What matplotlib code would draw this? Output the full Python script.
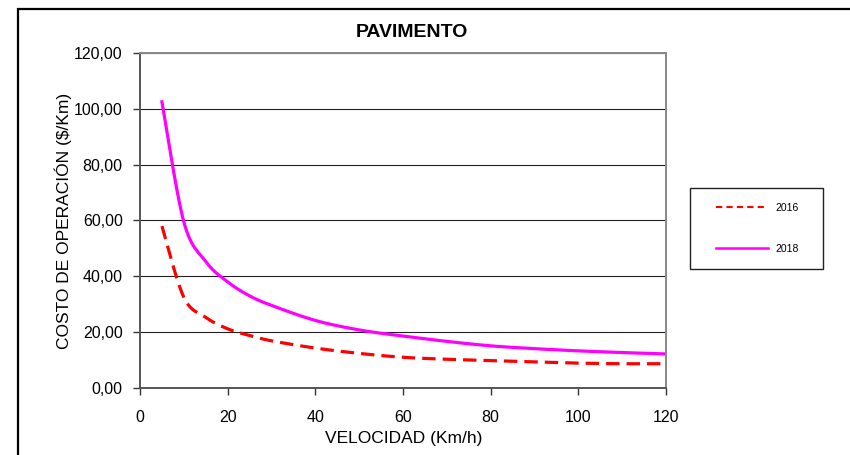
import matplotlib
matplotlib.use("Agg")
import numpy as np
import matplotlib.pyplot as plt
from matplotlib.patches import Rectangle
from matplotlib.lines import Line2D
from matplotlib.ticker import FuncFormatter

plt.rcParams['font.family'] = ['Liberation Sans', 'DejaVu Sans']

speed = [5, 10, 15, 20, 25, 30, 40, 50, 60, 70, 80, 90, 100, 110, 120]
cost_2016 = [58.0, 32.5, 25.3, 21.2, 18.8, 16.9, 14.3, 12.4, 11.0, 10.3, 9.8, 9.3, 8.9, 8.7, 8.7]
cost_2018 = [102.5, 59.5, 45.3, 38.0, 33.0, 29.6, 24.2, 20.8, 18.6, 16.7, 15.1, 14.1, 13.3, 12.7, 12.2]
labels = ['2016', '2018']
x_ticks = [0, 20, 40, 60, 80, 100, 120]
y_ticks = [0, 20, 40, 60, 80, 100, 120]


def smooth(xs, ys, n=30):
    """Excel-like smoothed line (Bezier with 1/6 control offsets) through the points."""
    P = np.column_stack([xs, ys]).astype(float)
    P = np.vstack([P[0], P, P[-1]])
    out = []
    t = np.linspace(0, 1, n)[:, None]
    for i in range(1, len(P) - 2):
        p0, p1, p2, p3 = P[i - 1], P[i], P[i + 1], P[i + 2]
        c1 = p1 + (p2 - p0) / 6
        c2 = p2 - (p3 - p1) / 6
        seg = ((1 - t) ** 3) * p1 + 3 * ((1 - t) ** 2) * t * c1 + 3 * (1 - t) * t ** 2 * c2 + t ** 3 * p2
        out.append(seg if i == 1 else seg[1:])
    out = np.vstack(out)
    return out[:, 0], out[:, 1]


W, H = 850, 455
fig = plt.figure(figsize=(W / 100, H / 100), dpi=100)
fig.patch.set_facecolor('white')

# outer chart border (left and top edges visible)
fig.add_artist(Rectangle((18 / W, -0.2), 1.5, 1.2 - 9 / H, transform=fig.transFigure,
                         fill=False, edgecolor='black', linewidth=1.6))

ax = fig.add_axes([140 / W, 1 - 388 / H, (666 - 140) / W, (388 - 53) / H])
x16, y16 = smooth(speed, cost_2016)
x18, y18 = smooth(speed, cost_2018)
ax.plot(x16, y16, color='#FF0000', linewidth=2.3, linestyle=(0, (4.2, 2.2)),
        dash_capstyle='butt')
ax.plot(x18, y18, color='#FF00FF', linewidth=2.3)

ax.set_xlim(0, 120)
ax.set_ylim(0, 120)
ax.set_xticks(x_ticks)
ax.set_yticks(y_ticks)
ax.yaxis.set_major_formatter(FuncFormatter(lambda v, p: f"{v:.2f}".replace('.', ',')))
ax.grid(axis='y', color='#222222', linewidth=0.8)
ax.set_axisbelow(True)
ax.tick_params(direction='out', length=5, width=1, color='#333333', labelsize=11.5)
ax.tick_params(axis='x', pad=11)
ax.tick_params(axis='y', pad=7.5)
for s in ['left', 'bottom']:
    ax.spines[s].set_color('#555555')
    ax.spines[s].set_linewidth(1.4)
for s in ['top', 'right']:
    ax.spines[s].set_color('#888888')
    ax.spines[s].set_linewidth(1.4)

ax.set_xlabel('VELOCIDAD (Km/h)', fontsize=12.5)
ax.set_ylabel('COSTO DE OPERACIÓN ($/Km)', fontsize=12.5)
ax.xaxis.set_label_coords((404 - 140) / 526, (388 - 438) / 335)
ax.yaxis.set_label_coords((63 - 140) / 526, 0.5)
ax.xaxis.label.set_va('center')
ax.yaxis.label.set_va('center')
fig.text(411.5 / W, 1 - 32.5 / H, 'PAVIMENTO', fontsize=14, fontweight='bold', ha='center', va='center')

# legend box
fig.add_artist(Rectangle((690 / W, 1 - 269 / H), (823 - 690) / W, (269 - 188) / H,
                         transform=fig.transFigure, fill=False, edgecolor='#222222', linewidth=1.0))
h1 = Line2D([0], [0], color='#FF0000', linewidth=1.5, linestyle=(0, (3, 2)))
h2 = Line2D([0], [0], color='#FF00FF', linewidth=1.8)
fig.legend([h1, h2], labels, loc='center', bbox_to_anchor=(757 / W, 1 - 228.5 / H),
           frameon=False, fontsize=7.5, handlelength=5.0, handletextpad=0.7, labelspacing=3.0)

fig.savefig('out.png', dpi=100)
